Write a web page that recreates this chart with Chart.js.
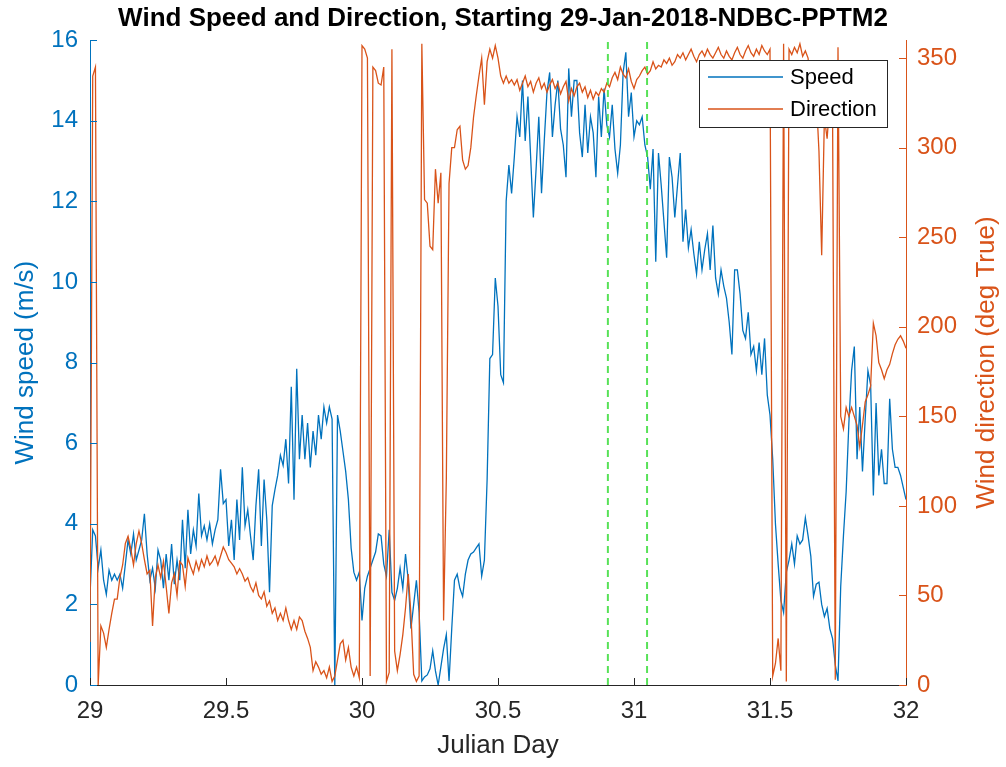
<!DOCTYPE html>
<html>
<head>
<meta charset="utf-8">
<title>Wind Speed and Direction</title>
<script src="https://cdn.jsdelivr.net/npm/chart.js@4.4.1/dist/chart.umd.min.js"></script>
<style>
  html, body { margin: 0; padding: 0; background: #fff; }
  #wrap { width: 1006px; height: 767px; }
</style>
</head>
<body>
<div id="wrap"><canvas id="windChart" width="1006" height="767"></canvas></div>
<script>
// sample times: Julian day, one reading every 0.01 day
const startDay = 29;
const stepDay = 0.01;

// wind speed, m/s
const speed = [
  2.2, 3.85, 3.7, 2.9, 3.35, 2.6, 2.25, 2.85, 2.6, 2.75,
  2.6, 2.75, 2.4, 3.0, 3.6, 3.25, 3.75, 3.1, 3.35, 3.6,
  4.25, 3.25, 2.6, 2.9, 2.4, 3.35, 3.1, 2.4, 3.25, 2.6,
  3.5, 2.5, 3.1, 2.6, 4.1, 2.9, 4.35, 3.25, 3.85, 3.45,
  4.75, 3.7, 3.95, 3.6, 4.0, 3.5, 3.85, 4.1, 5.35, 4.5,
  4.6, 3.45, 4.1, 3.1, 4.6, 3.6, 5.4, 3.95, 4.35, 3.7,
  3.1, 4.45, 5.35, 3.45, 5.1, 4.1, 2.3, 4.45, 4.85, 5.2,
  5.7, 5.45, 6.1, 5.0, 7.4, 4.6, 7.85, 5.6, 6.7, 5.6,
  6.5, 5.4, 6.3, 5.7, 6.7, 6.1, 6.9, 6.5, 6.9, 6.6,
  0, 6.7, 6.3, 5.8, 5.3, 4.6, 3.4, 2.8, 2.6, 2.8,
  1.6, 2.4, 2.7, 2.9, 3.1, 3.3, 3.75, 3.7, 3.0, 2.7,
  3.85, 2.3, 2.1, 2.4, 2.9, 2.4, 3.25, 2.6, 1.4, 2.0,
  2.6, 1.8, 0.1, 0.2, 0.25, 0.4, 0.85, 0.35, 0.0, 0.45,
  0.9, 1.25, 0.1, 1.4, 2.6, 2.75, 2.4, 2.2, 2.75, 3.1,
  3.25, 3.3, 3.4, 3.5, 2.7, 3.1, 5.1, 8.1, 8.2, 10.1,
  9.4, 7.7, 7.5, 12.0, 12.9, 12.2, 13.1, 14.1, 13.6, 15.0,
  13.5, 14.6, 13.1, 11.6, 12.8, 14.1, 12.2, 13.5, 14.7, 15.2,
  13.6, 14.4, 15.0, 13.8, 13.4, 12.6, 15.3, 14.1, 15.0, 15.0,
  13.7, 13.1, 14.4, 13.2, 14.1, 13.7, 12.6, 14.6, 13.6, 14.8,
  13.9, 13.6, 14.4, 13.3, 12.7, 13.4, 15.2, 15.7, 14.1, 14.7,
  13.6, 14.0, 13.9, 14.1, 13.4, 13.1, 12.3, 13.3, 10.5, 13.2,
  12.4, 11.5, 10.6, 13.1, 12.6, 11.6, 12.4, 13.2, 11.0, 11.8,
  10.85, 11.3, 10.7, 10.2, 11.0, 10.3, 10.8, 11.2, 10.3, 11.4,
  10.1, 9.7, 10.3, 9.9, 9.6, 9.0, 8.2, 10.3, 10.3, 9.7,
  8.8, 8.6, 9.25, 8.2, 8.4, 7.8, 8.5, 7.7, 8.6, 7.2,
  6.7, 5.6, 4.0, 3.0, 2.1, 1.8, 2.8, 3.1, 3.5, 3.0,
  3.7, 3.5, 3.6, 4.15, 3.7, 3.2, 2.2, 2.5, 2.55, 2.0,
  1.7, 1.9, 1.4, 1.15, 0.5, 0.1, 2.45, 3.7, 4.8, 6.5,
  7.8, 8.4, 5.6, 6.9, 5.3, 6.6, 7.8, 7.45, 4.7, 7.0,
  5.2, 5.85, 5.0, 5.0, 7.1, 5.85, 5.4, 5.4, 5.2, 4.9,
  4.6
];

// wind direction, degrees true
const direction = [
  24, 340, 345, 0, 33, 29, 21, 31, 40, 48,
  48, 60, 67, 79, 83, 76, 67, 79, 86, 79,
  70, 62, 64, 33, 60, 67, 60, 69, 55, 40,
  57, 62, 50, 69, 67, 55, 71, 66, 62, 69,
  64, 70, 66, 72, 67, 69, 72, 67, 72, 77,
  74, 70, 68, 66, 62, 65, 62, 58, 60, 55,
  52, 57, 50, 48, 52, 44, 47, 40, 43, 36,
  40, 36, 43, 36, 31, 36, 31, 38, 36, 30,
  26, 21, 8, 13, 10, 6, 8, 4, 10, 2,
  5, 14, 23, 25, 14, 21, 10, 5, 10, 4,
  357, 355, 350, 5, 345, 343, 336, 335, 345, 2,
  7, 355, 19, 8, 17, 28, 43, 62, 39, 6,
  2, 5, 358, 271, 269, 245, 243, 288, 269, 286,
  36, 115, 280, 300, 300, 310, 312, 293, 288, 290,
  300, 317, 329, 340, 350, 324, 348, 355, 350, 357,
  350, 340, 336, 340, 336, 338, 335, 338, 332, 336,
  340, 334, 337, 331, 336, 339, 333, 336, 331, 335,
  338, 333, 336, 330, 334, 337, 326, 333, 329, 334,
  336, 331, 334, 328, 332, 327, 331, 329, 333, 331,
  336, 334, 339, 342, 338, 345, 341, 339, 344, 337,
  333, 338, 340, 343, 345, 341, 343, 348, 344, 346,
  345, 349, 347, 350, 346, 348, 352, 350, 353, 349,
  352, 355, 351, 348, 352, 354, 351, 355, 352, 350,
  353, 356, 352, 350, 354, 351, 349, 353, 356, 352,
  350, 354, 357, 353, 351, 355, 352, 357, 354, 352,
  355, 5, 12, 26, 8, 358, 2, 355, 352, 356,
  353, 358, 351, 354, 350, 332, 317, 329, 298, 240,
  317, 305, 326, 320, 3, 356, 150, 143, 155, 150,
  155, 150, 145, 133, 145, 158, 162, 167, 202, 195,
  180, 176, 171, 176, 179, 185, 190, 193, 195, 192,
  188
];

// dashed markers (Julian day)
const markerDays = [30.904, 31.048];

const BLUE = '#0072BD';
const ORANGE = '#D95319';
const GREEN = 'rgba(70, 222, 70, 0.9)';
const INK = '#262626';
const FONT = "'Liberation Sans', Arial, Helvetica, sans-serif";

const toPoints = arr => arr.map((v, i) => ({ x: startDay + i * stepDay, y: v }));

// MATLAB-ish extras: inward ticks, boxed legend, right label reading upward
const matlabAxes = {
  id: 'matlabAxes',
  afterDatasetsDraw(chart) {
    const { ctx, chartArea: a, scales } = chart;
    const tickLen = 7;
    ctx.save();
    ctx.lineWidth = 1;

    ctx.strokeStyle = INK;
    scales.x.ticks.forEach(t => {
      const px = Math.round(scales.x.getPixelForValue(t.value)) + 0.5;
      ctx.beginPath(); ctx.moveTo(px, a.bottom); ctx.lineTo(px, a.bottom - tickLen); ctx.stroke();
    });
    ctx.strokeStyle = BLUE;
    scales.y.ticks.forEach(t => {
      const py = Math.round(scales.y.getPixelForValue(t.value)) + 0.5;
      ctx.beginPath(); ctx.moveTo(a.left, py); ctx.lineTo(a.left + tickLen, py); ctx.stroke();
    });
    ctx.strokeStyle = ORANGE;
    scales.y1.ticks.forEach(t => {
      const py = Math.round(scales.y1.getPixelForValue(t.value)) + 0.5;
      ctx.beginPath(); ctx.moveTo(a.right, py); ctx.lineTo(a.right - tickLen, py); ctx.stroke();
    });

    // legend box
    const box = { left: 699, top: 60, right: 887, bottom: 127 };
    ctx.fillStyle = '#fff';
    ctx.fillRect(box.left, box.top, box.right - box.left, box.bottom - box.top);
    ctx.strokeStyle = INK;
    ctx.strokeRect(box.left + 0.5, box.top + 0.5, box.right - box.left, box.bottom - box.top);
    ctx.font = '22px ' + FONT;
    ctx.textBaseline = 'middle';
    ctx.textAlign = 'left';
    chart.data.datasets.slice(0, 2).forEach((ds, i) => {
      const ly = 77 + i * 32;
      ctx.strokeStyle = ds.borderColor;
      ctx.lineWidth = 1.3;
      ctx.beginPath(); ctx.moveTo(708, ly); ctx.lineTo(783, ly); ctx.stroke();
      ctx.fillStyle = '#000';
      ctx.fillText(ds.label, 790, ly + 1);
    });
    ctx.restore();
  },
  afterDraw(chart) {
    const { ctx, chartArea: a } = chart;
    ctx.save();
    ctx.translate(987, (a.top + a.bottom) / 2);
    ctx.rotate(-Math.PI / 2);
    ctx.font = '26px ' + FONT;
    ctx.fillStyle = ORANGE;
    ctx.textAlign = 'center';
    ctx.textBaseline = 'middle';
    ctx.fillText('Wind direction (deg True)', 0, 0);
    ctx.restore();
  }
};

Chart.defaults.font.family = FONT;

new Chart(document.getElementById('windChart'), {
  type: 'line',
  data: {
    datasets: [
      { label: 'Speed', data: toPoints(speed), yAxisID: 'y', borderColor: BLUE,
        borderWidth: 1.3, pointRadius: 0, tension: 0, order: 3 },
      { label: 'Direction', data: toPoints(direction), yAxisID: 'y1', borderColor: ORANGE,
        borderWidth: 1.3, pointRadius: 0, tension: 0, order: 2 },
      ...markerDays.map(d => ({
        label: 'marker', data: [{ x: d, y: 0 }, { x: d, y: 16 }], yAxisID: 'y',
        borderColor: GREEN, borderWidth: 2, borderDash: [7, 5], pointRadius: 0, order: 1
      }))
    ]
  },
  options: {
    responsive: false,
    animation: false,
    devicePixelRatio: 1,
    layout: { padding: 0 },
    plugins: {
      legend: { display: false },
      tooltip: { enabled: false },
      title: {
        display: true,
        text: 'Wind Speed and Direction, Starting 29-Jan-2018-NDBC-PPTM2',
        color: '#000',
        font: { size: 26, weight: 'bold' },
        padding: { top: 3, bottom: 6 }
      }
    },
    scales: {
      x: {
        type: 'linear', min: 29, max: 32,
        ticks: { stepSize: 0.5, color: INK, font: { size: 24 }, padding: 12, maxRotation: 0, autoSkip: false,
                 callback: v => String(v) },
        grid: { display: false, drawTicks: false },
        border: { display: true, color: INK, width: 1 },
        title: { display: true, text: 'Julian Day', color: INK, font: { size: 26 }, padding: { top: 0, bottom: 6 } },
        afterFit(s) { s.height = 82; }
      },
      y: {
        position: 'left', min: 0, max: 16,
        ticks: { stepSize: 2, color: BLUE, font: { size: 24 }, padding: 12 },
        grid: { display: false, drawTicks: false },
        border: { display: true, color: BLUE, width: 1 },
        title: { display: true, text: 'Wind speed (m/s)', color: BLUE, font: { size: 26 }, padding: { top: 10, bottom: 0 } },
        afterFit(s) { s.width = 90; }
      },
      y1: {
        position: 'right', min: 0, max: 360,
        ticks: { stepSize: 50, includeBounds: false, color: ORANGE, font: { size: 24 }, padding: 11 },
        grid: { display: false, drawTicks: false },
        border: { display: true, color: ORANGE, width: 1 },
        afterFit(s) { s.width = 100; }
      }
    }
  },
  plugins: [matlabAxes]
});
</script>
</body>
</html>
